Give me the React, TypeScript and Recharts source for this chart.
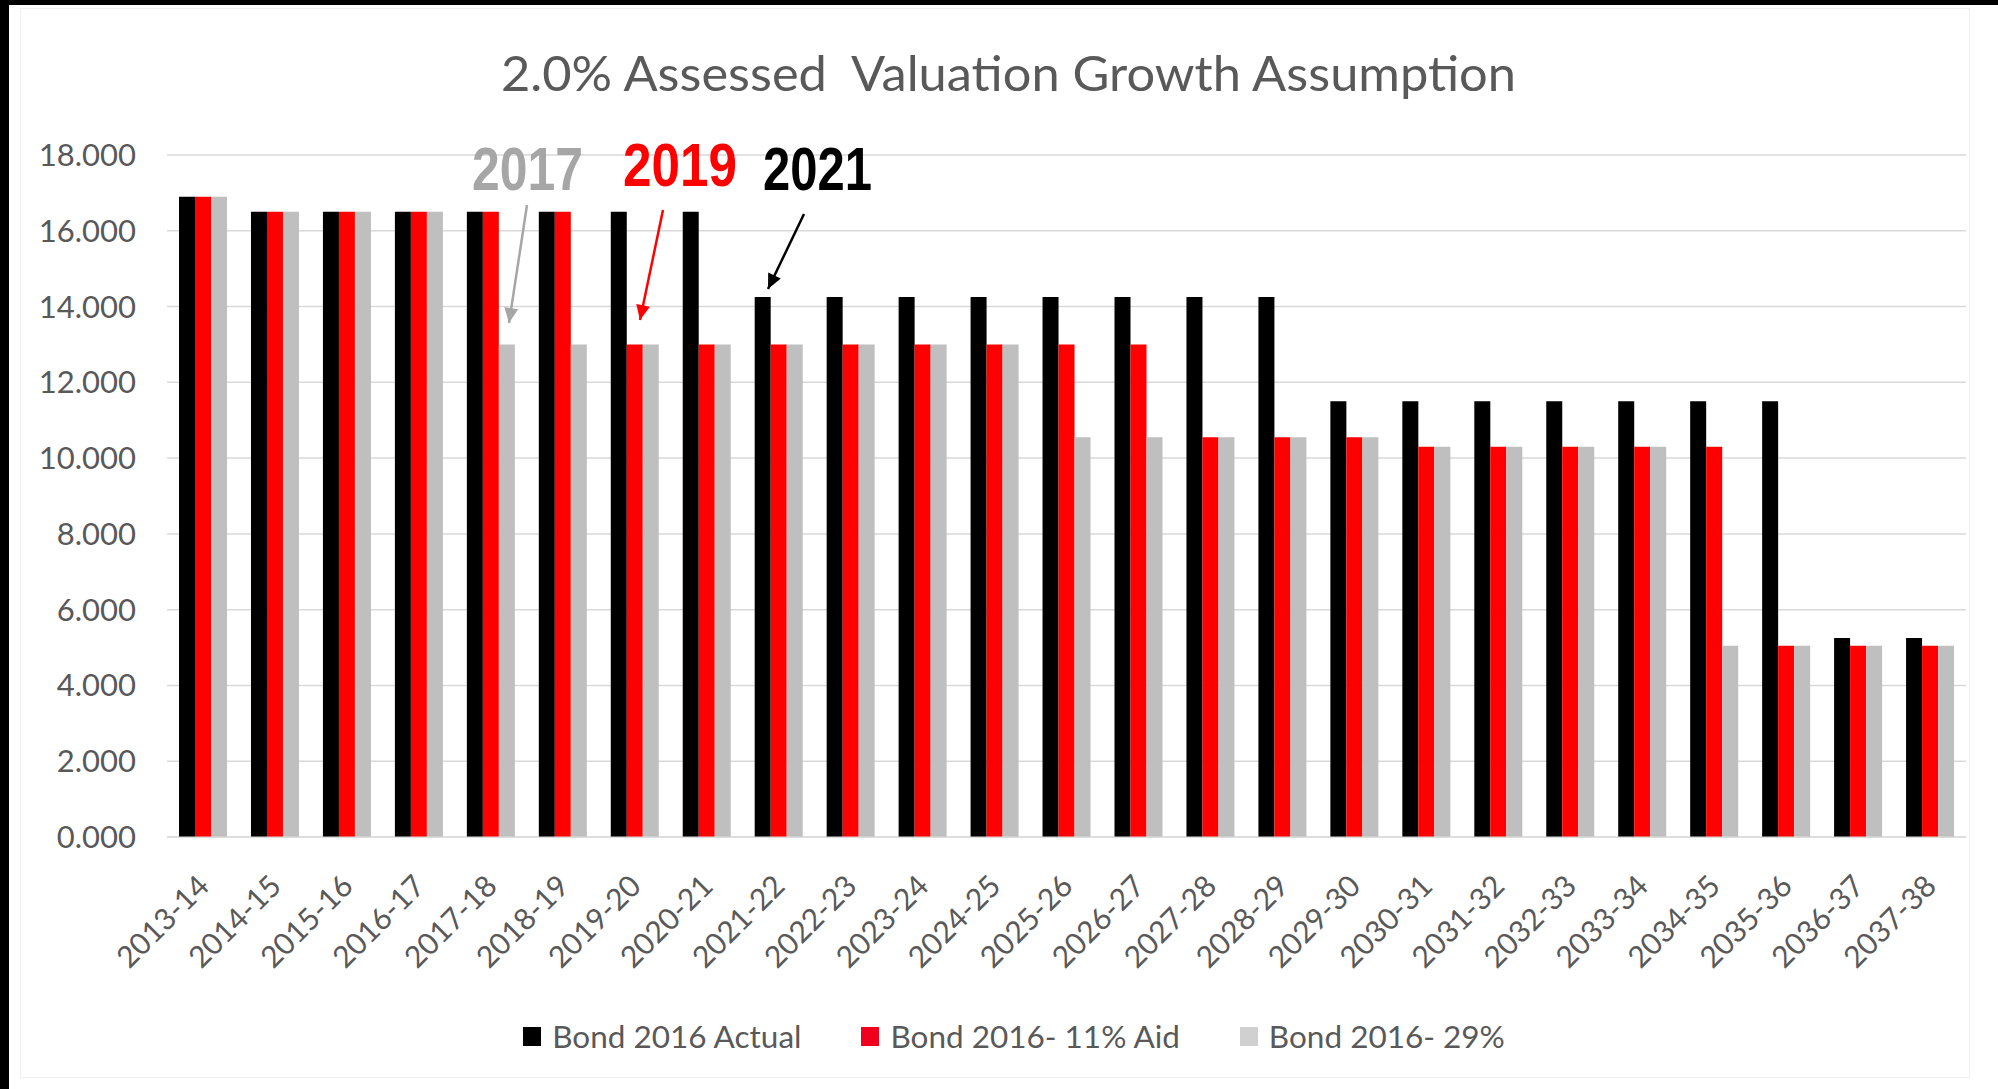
import { BarChart, Bar, XAxis, YAxis, CartesianGrid, Legend } from 'recharts';

const categories = [
  '2013-14', '2014-15', '2015-16', '2016-17', '2017-18', '2018-19', '2019-20',
  '2020-21', '2021-22', '2022-23', '2023-24', '2024-25', '2025-26', '2026-27',
  '2027-28', '2028-29', '2029-30', '2030-31', '2031-32', '2032-33', '2033-34',
  '2034-35', '2035-36', '2036-37', '2037-38',
];

const actual = [
  16.9, 16.5, 16.5, 16.5, 16.5, 16.5, 16.5,
  16.5, 14.25, 14.25, 14.25, 14.25, 14.25, 14.25,
  14.25, 14.25, 11.5, 11.5, 11.5, 11.5, 11.5,
  11.5, 11.5, 5.25, 5.25,
];

const aid11 = [
  16.9, 16.5, 16.5, 16.5, 16.5, 16.5, 13.0,
  13.0, 13.0, 13.0, 13.0, 13.0, 13.0, 13.0,
  10.55, 10.55, 10.55, 10.3, 10.3, 10.3, 10.3,
  10.3, 5.05, 5.05, 5.05,
];

const aid29 = [
  16.9, 16.5, 16.5, 16.5, 13.0, 13.0, 13.0,
  13.0, 13.0, 13.0, 13.0, 13.0, 10.55, 10.55,
  10.55, 10.55, 10.55, 10.3, 10.3, 10.3, 10.3,
  5.05, 5.05, 5.05, 5.05,
];

const yTicks = [0, 2, 4, 6, 8, 10, 12, 14, 16, 18];

const SERIES = [
  { key: 'actual', name: 'Bond 2016 Actual', color: '#000000', legend: '#000000' },
  { key: 'aid11', name: 'Bond 2016- 11% Aid', color: '#ff0000', legend: '#f0001c' },
  { key: 'aid29', name: 'Bond 2016- 29%', color: '#bfbfbf', legend: '#d0d0d0' },
];

const data = categories.map((c, i) => ({
  name: c,
  actual: actual[i],
  aid11: aid11[i],
  aid29: aid29[i],
}));

const FONT = 'Lato, "Open Sans", sans-serif';
const TEXT = '#595959';

// year callouts drawn over the chart
const callouts = [
  { text: '2017', color: '#a6a6a6', x: 472, y: 190, w: 111, from: [527, 205], to: [509, 323] },
  { text: '2019', color: '#ff0000', x: 623, y: 186, w: 114, from: [663, 210], to: [640, 320] },
  { text: '2021', color: '#000000', x: 763, y: 190, w: 109, from: [804, 214], to: [768, 289] },
];

function arrowHead(from: number[], to: number[], len = 15, half = 7) {
  const dx = to[0] - from[0];
  const dy = to[1] - from[1];
  const d = Math.sqrt(dx * dx + dy * dy);
  const ux = dx / d;
  const uy = dy / d;
  const bx = to[0] - ux * len;
  const by = to[1] - uy * len;
  return `${to[0]},${to[1]} ${bx - uy * half},${by + ux * half} ${bx + uy * half},${by - ux * half}`;
}

const XTick = ({ x, y, payload }: any) => {
  const ax = x + 8;
  const ay = y + 43;
  return (
    <text x={ax} y={ay} transform={`rotate(-45 ${ax} ${ay})`} textAnchor="end"
      fill={TEXT} fontSize={30} fontFamily={FONT}
    >
      {payload.value}
    </text>
  );
};

const renderLegend = () => (
  <div style={{ height: 40, display: 'flex', justifyContent: 'center', alignItems: 'center',
    paddingLeft: 30, fontFamily: FONT, fontSize: 31.5, color: TEXT }}
  >
    {SERIES.map((s, i) => (
      <div key={s.key} style={{ display: 'flex', alignItems: 'center', marginLeft: i === 0 ? 0 : 60 }}>
        <span style={{ width: 18, height: 19, background: s.legend, display: 'inline-block', marginRight: 11 }} />
        <span>{s.name}</span>
      </div>
    ))}
  </div>
);

export default function App() {
  return (
    <div style={{ position: 'absolute', left: 0, top: 0, width: 1998, height: 1089, background: '#000', overflow: 'hidden' }}>
      <div style={{ position: 'absolute', left: 9, top: 5, width: 1989, height: 1084, background: '#fff' }} />
      <div style={{ position: 'absolute', left: 20, top: 8, width: 1948, height: 1068, border: '1px solid #f0f0f0' }} />
      <div style={{ position: 'absolute', left: 0, top: 0 }}>
        <BarChart width={1998} height={1089} data={data}
          margin={{ top: 155, right: 32, left: 0, bottom: 33 }}
          barCategoryGap="16.7%" barGap={0}
        >
          <CartesianGrid vertical={false} stroke="#d9d9d9" strokeWidth={1.5} />
          <XAxis dataKey="name" interval={0} tickLine={false} axisLine={{ stroke: '#d9d9d9' }}
            height={179} tick={<XTick />}
          />
          <YAxis domain={[0, 18]} ticks={yTicks} width={167} axisLine={false} tickLine={false}
            tickMargin={25} tickFormatter={(v: number) => v.toFixed(3)}
            tick={{ fill: TEXT, fontSize: 31, fontFamily: FONT }}
          />
          {SERIES.map((s) => (
            <Bar key={s.key} dataKey={s.key} name={s.name} fill={s.color} isAnimationActive={false} />
          ))}
          <Legend verticalAlign="bottom" content={renderLegend}
            wrapperStyle={{ left: 0, width: 1998, bottom: 33 }}
          />
        </BarChart>
      </div>
      <svg width={1998} height={1089} style={{ position: 'absolute', left: 0, top: 0, pointerEvents: 'none' }}>
        <text x={501} y={91} fill={TEXT} fontSize={48} fontFamily={FONT}
          textLength={1015} lengthAdjust="spacingAndGlyphs" style={{ whiteSpace: 'pre' }}
        >
          {'2.0% Assessed  Valuation Growth Assumption'}
        </text>
        {callouts.map((c) => (
          <g key={c.text}>
            <text x={c.x} y={c.y} fill={c.color} fontSize={62} fontWeight="bold"
              fontFamily='"Liberation Sans", Arial, sans-serif'
              textLength={c.w} lengthAdjust="spacingAndGlyphs"
            >
              {c.text}
            </text>
            <line x1={c.from[0]} y1={c.from[1]} x2={c.to[0]} y2={c.to[1]} stroke={c.color} strokeWidth={2.5} />
            <polygon points={arrowHead(c.from, c.to)} fill={c.color} />
          </g>
        ))}
      </svg>
    </div>
  );
}
